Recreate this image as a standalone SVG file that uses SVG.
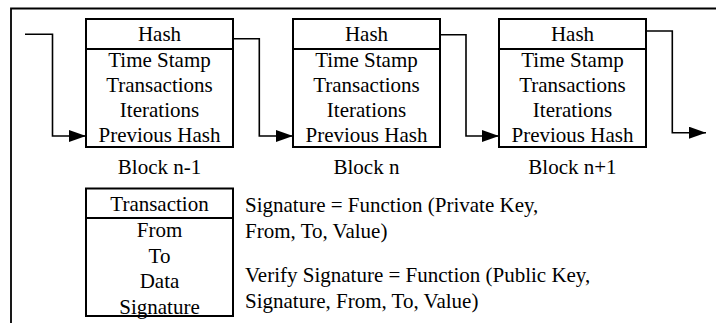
<svg xmlns="http://www.w3.org/2000/svg" width="716" height="323" viewBox="0 0 716 323">
<style>
.box{fill:#fff;stroke:#000;stroke-width:2}
.div{stroke:#000;stroke-width:2}
.t{font-family:"Liberation Serif","Times New Roman",serif;font-size:21px;fill:#000}
.c{text-anchor:middle}
.conn{fill:none;stroke:#000;stroke-width:1.6}
.frame{fill:none;stroke:#000;stroke-width:1.8}
</style>
<defs>
<marker id="arr" markerWidth="17" markerHeight="12" refX="17" refY="6" orient="auto" markerUnits="userSpaceOnUse">
<path d="M0,0 L17,6 L0,12 Z" fill="#000"/>
</marker>
</defs>
<rect width="716" height="323" fill="#fff"/>
<path class="frame" d="M11,323 V8.5 H716"/>
<g id="block-n-1">
<rect class="box" x="86" y="19" width="147" height="128"/>
<line class="div" x1="86" y1="49" x2="233" y2="49"/>
<text class="t c" x="159.5" y="40.5">Hash</text>
<text class="t c" x="159.5" y="67">Time Stamp</text>
<text class="t c" x="159.5" y="91.7">Transactions</text>
<text class="t c" x="159.5" y="116.5">Iterations</text>
<text class="t c" x="159.5" y="141.5">Previous Hash</text>
<text class="t c" x="159.5" y="174">Block n-1</text>
</g>
<g id="block-n">
<rect class="box" x="293" y="19" width="147" height="128"/>
<line class="div" x1="293" y1="49" x2="440" y2="49"/>
<text class="t c" x="366.5" y="40.5">Hash</text>
<text class="t c" x="366.5" y="67">Time Stamp</text>
<text class="t c" x="366.5" y="91.7">Transactions</text>
<text class="t c" x="366.5" y="116.5">Iterations</text>
<text class="t c" x="366.5" y="141.5">Previous Hash</text>
<text class="t c" x="366.5" y="174">Block n</text>
</g>
<g id="block-n+1">
<rect class="box" x="499" y="19" width="147" height="128"/>
<line class="div" x1="499" y1="49" x2="646" y2="49"/>
<text class="t c" x="572.5" y="40.5">Hash</text>
<text class="t c" x="572.5" y="67">Time Stamp</text>
<text class="t c" x="572.5" y="91.7">Transactions</text>
<text class="t c" x="572.5" y="116.5">Iterations</text>
<text class="t c" x="572.5" y="141.5">Previous Hash</text>
<text class="t c" x="572.5" y="174">Block n+1</text>
</g>
<g id="transaction">
<rect class="box" x="86" y="188.5" width="147" height="127.5"/>
<line class="div" x1="86" y1="218" x2="233" y2="218"/>
<text class="t c" x="159.5" y="211">Transaction</text>
<text class="t c" x="159.5" y="236.7">From</text>
<text class="t c" x="159.5" y="263">To</text>
<text class="t c" x="159.5" y="288.3">Data</text>
<text class="t c" x="159.5" y="314">Signature</text>
</g>
<g id="formulas">
<text class="t" x="245" y="211.5">Signature = Function (Private Key,</text>
<text class="t" x="245" y="237.5">From, To, Value)</text>
<text class="t" x="245" y="281.5">Verify Signature = Function (Public Key,</text>
<text class="t" x="245" y="307.5">Signature, From, To, Value)</text>
</g>
<g id="connectors">
<path class="conn" d="M25,34.3 H52.5 V136 H86" marker-end="url(#arr)"/>
<path class="conn" d="M233,38.7 H259.3 V136 H293" marker-end="url(#arr)"/>
<path class="conn" d="M440,34.7 H466 V136 H499" marker-end="url(#arr)"/>
<path class="conn" d="M646,31 H672.3 V132.7 H706" marker-end="url(#arr)"/>
</g>
</svg>
